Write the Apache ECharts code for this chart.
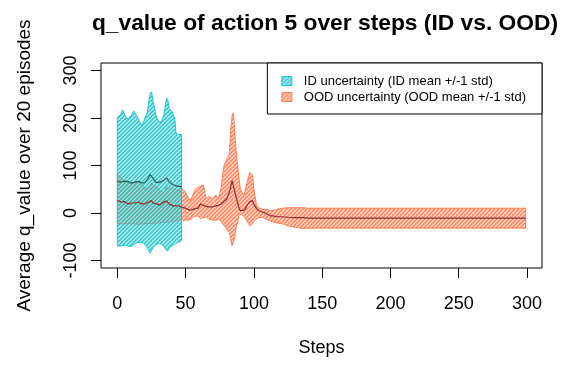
<!DOCTYPE html>
<html>
<head>
<meta charset="utf-8">
<script src="https://cdn.jsdelivr.net/npm/echarts@6/dist/echarts.min.js"></script>
<style>
  html, body { margin: 0; padding: 0; background: #ffffff; }
  #chart { width: 561px; height: 365px; }
</style>
</head>
<body>
<div id="chart"></div>
<script>
// Axis ticks
const xTicks = [0, 50, 100, 150, 200, 250, 300];
const yTicks = [-100, 0, 100, 200, 300];

// ID episodes: mean and +/-1 std band
const idSteps = [0, 2, 4, 6, 8, 10, 12, 14, 16, 18, 20, 22, 23, 24, 25, 26, 28, 30, 32, 34, 36, 37, 38, 40, 42, 43, 44, 47];
const idUpper = [201, 206, 217, 202, 198, 205, 215, 205, 195, 183, 198, 212, 235, 252, 255, 240, 208, 192, 192, 205, 242, 237, 220, 214, 200, 167, 166, 165];
const idMean  = [67, 65, 66, 67, 66, 63, 64, 66, 66, 63, 64, 70, 76, 81, 78, 74, 65, 64, 66, 69, 74, 72, 66, 61, 58, 57, 56, 56];
const idLower = [-69, -70, -69, -68, -70, -71, -66, -63, -62, -62, -66, -73, -79, -85, -80, -73, -67, -65, -65, -70, -79, -80, -74, -69, -66, -64, -62, -58];

// OOD episodes: mean and +/-1 std band
const oodSteps = [0, 3, 5, 8, 10, 13, 15, 18, 20, 23, 25, 26, 29, 31, 34, 36, 38, 41, 45, 47,
  48, 50, 53, 55, 57, 59, 61, 63, 65, 67, 70, 72, 74, 76, 78, 80, 82, 83, 84, 85, 86, 87, 88, 89,
  90, 91, 93, 95, 97, 99, 100, 102, 104, 106, 109, 112, 114, 117, 121, 125, 130, 136, 140, 299];
const oodUpper = [81, 74, 66, 63, 64, 65, 67, 60, 50, 55, 63, 60, 55, 47, 43, 55, 53, 50, 47, 50,
  50, 43, 26, 35, 50, 54, 57, 59, 31, 35, 29, 38, 29, 54, 99, 113, 123, 172, 205, 211, 170, 130, 102, 75,
  50, 44, 39, 65, 85, 80, 50, 15, 10, 8, 8, 5, 5, 8, 10, 11, 11, 11, 10, 10];
const oodMean = [26, 23, 24, 19, 21, 21, 23, 19, 19, 23, 26, 21, 19, 17, 23, 25, 19, 15, 15, 12,
  15, 10, 6, 7, 9, 10, 19, 16, 14, 13, 13, 15, 16, 19, 24, 29, 43, 55, 68, 66, 45, 33, 22, 12,
  5, 3, 6, 16, 24, 26, 18, 9, 4, 2, -1, -6, -6, -8, -8, -9, -10, -10, -11, -11];
const oodLower = [-22, -23, -23, -22, -23, -23, -24, -23, -23, -22, -22, -22, -21, -21, -20, -20, -19, -18, -16, -14,
  -16, -15, -15, -10, -7, -6, -12, -10, -9, -13, -15, -16, -13, -17, -26, -34, -41, -55, -69, -62, -48, -30, -20, -4,
  -3, -3, -8, -18, -27, -23, -18, -12, -10, -9, -13, -17, -19, -21, -23, -27, -30, -33, -32, -32];

const ID_COLOR = '#1fc6cd';
const OOD_COLOR = '#ff7f55';

// Diagonal hatch tile used as a repeating fill
function hatch(lineColor, bgColor) {
  const n = 4;
  const c = document.createElement('canvas');
  c.width = n; c.height = n;
  const g = c.getContext('2d');
  g.fillStyle = bgColor;
  g.fillRect(0, 0, n, n);
  g.strokeStyle = lineColor;
  g.lineWidth = 1.4;
  g.beginPath();
  g.moveTo(0, n); g.lineTo(n, 0);
  g.moveTo(-1, 1); g.lineTo(1, -1);
  g.moveTo(n - 1, n + 1); g.lineTo(n + 1, n - 1);
  g.stroke();
  return { image: c, repeat: 'repeat' };
}

const idFill = hatch(ID_COLOR, 'rgba(31,198,205,0.25)');
const oodFill = hatch(OOD_COLOR, 'rgba(255,127,85,0.28)');

const ID_NAME = 'ID uncertainty (ID mean +/-1 std)';
const OOD_NAME = 'OOD uncertainty (OOD mean +/-1 std)';

// Closed polygon between the upper and lower std curves
function bandSeries(name, steps, upper, lower, fill, stroke, z) {
  return {
    type: 'custom',
    name: name,
    coordinateSystem: 'cartesian2d',
    silent: true,
    z: z,
    itemStyle: { color: stroke },
    data: steps.map((s, i) => [s, upper[i], lower[i]]),
    encode: { x: 0, y: [1, 2] },
    renderItem: function (params, api) {
      if (params.dataIndex !== 0) return null;
      const pts = [];
      for (let i = 0; i < steps.length; i++) pts.push(api.coord([steps[i], upper[i]]));
      for (let i = steps.length - 1; i >= 0; i--) pts.push(api.coord([steps[i], lower[i]]));
      return {
        type: 'polygon',
        shape: { points: pts },
        style: { fill: fill, stroke: stroke, lineWidth: 1 }
      };
    }
  };
}

function meanSeries(steps, values, color, z) {
  return {
    type: 'line',
    silent: true,
    z: z,
    showSymbol: false,
    symbol: 'none',
    data: steps.map((s, i) => [s, values[i]]),
    lineStyle: { color: color, width: 1.2 }
  };
}

const FONT = '"Liberation Sans", Arial, Helvetica, sans-serif';

const chart = echarts.init(document.getElementById('chart'), null, { renderer: 'canvas' });
chart.setOption({
  animation: false,
  backgroundColor: '#ffffff',
  textStyle: { fontFamily: FONT },
  title: {
    text: 'q_value of action 5 over steps (ID vs. OOD)',
    left: 320,
    textAlign: 'center',
    top: 7,
    textStyle: { fontFamily: FONT, fontSize: 22.8, fontWeight: 'bold', color: '#000' }
  },
  legend: {
    right: 19,
    top: 63,
    orient: 'vertical',
    backgroundColor: '#ffffff',
    borderColor: '#000',
    borderWidth: 1,
    borderRadius: 0,
    padding: [11, 16, 10, 14],
    itemGap: 2,
    itemWidth: 10,
    itemHeight: 9,
    selectedMode: false,
    textStyle: { fontFamily: FONT, fontSize: 13, lineHeight: 14, color: '#000', padding: [0, 0, 0, 7] },
    data: [
      { name: ID_NAME, icon: 'rect', itemStyle: { color: idFill, borderColor: ID_COLOR, borderWidth: 1 } },
      { name: OOD_NAME, icon: 'rect', itemStyle: { color: oodFill, borderColor: OOD_COLOR, borderWidth: 1 } }
    ]
  },
  grid: {
    left: 101, top: 63, right: 19, bottom: 97,
    show: true, borderColor: '#000', borderWidth: 1, backgroundColor: 'transparent'
  },
  xAxis: {
    type: 'value',
    min: -11.96, max: 310.96,
    name: 'Steps',
    nameLocation: 'middle',
    nameGap: 71,
    nameTextStyle: { fontFamily: FONT, fontSize: 18, color: '#000' },
    axisLine: { show: false, onZero: false },
    axisTick: { show: true, customValues: xTicks, length: 10, lineStyle: { color: '#000', width: 1 } },
    axisLabel: { customValues: xTicks, fontSize: 18, color: '#000', margin: 27, fontFamily: FONT },
    splitLine: { show: false }
  },
  yAxis: {
    type: 'value',
    min: -116, max: 316,
    name: 'Average q_value over 20 episodes',
    nameLocation: 'middle',
    nameGap: 67,
    nameTextStyle: { fontFamily: FONT, fontSize: 19, color: '#000' },
    axisLine: { show: false, onZero: false },
    axisTick: { show: true, customValues: yTicks, length: 10, lineStyle: { color: '#000', width: 1 } },
    axisLabel: { customValues: yTicks, rotate: 90, fontSize: 18, color: '#000', margin: 21, fontFamily: FONT },
    splitLine: { show: false }
  },
  series: [
    bandSeries(OOD_NAME, oodSteps, oodUpper, oodLower, oodFill, OOD_COLOR, 1),
    bandSeries(ID_NAME, idSteps, idUpper, idLower, idFill, ID_COLOR, 2),
    meanSeries(oodSteps, oodMean, '#8b2c2c', 3),
    meanSeries(idSteps, idMean, '#2f5d5a', 4)
  ]
});
</script>
</body>
</html>
